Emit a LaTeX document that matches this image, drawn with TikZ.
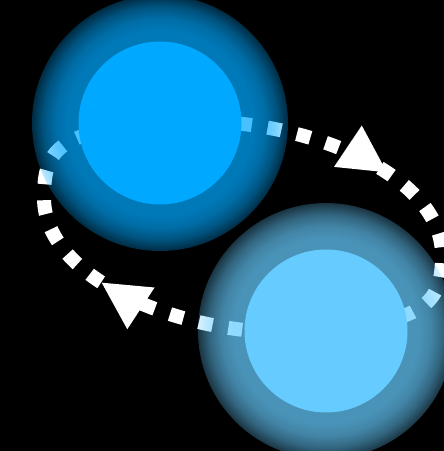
\documentclass[tikz,border=0pt]{standalone}
\usetikzlibrary{arrows.meta,decorations.markings,fadings}
\definecolor{cA}{RGB}{0,168,255}
\definecolor{cB}{RGB}{102,204,255}
\pgfdeclareradialshading{glowmask}{\pgfpointorigin}{color(0bp)=(white!72!black); color(16bp)=(white!72!black); color(18bp)=(white!65!black); color(20bp)=(white!50!black); color(21.5bp)=(white!32!black); color(23bp)=(white!13!black); color(24.2bp)=(white!3!black); color(25bp)=(black); color(50bp)=(black)}
\begin{tikzfadingfrompicture}[name=glowfade]
  \shade[shading=glowmask] (0,0) circle (1cm);
\end{tikzfadingfrompicture}
\pgfdeclarelayer{back}
\pgfdeclarelayer{mid}
\pgfsetlayers{back,mid,main}
\tikzset{
  ball/.style={circle, inner sep=0pt, minimum size=163pt},
  glow/.style={path fading=glowfade, fit fading=true},
  flow/.style={white, line width=14pt, dash pattern=on 14pt off 16pt,
    postaction={decorate, solid},
    decoration={markings, mark=at position #1 with {\arrow{Triangle[length=48pt,width=46pt]}}}},
}
\begin{document}
\begin{tikzpicture}[x=1pt,y=1pt]
\useasboundingbox (0,0) rectangle (444,451);
\node[ball, fill=cA] (A) at (160,328) {};
\node[ball, fill=cB] (B) at (326,120) {};
\coordinate (M1) at (442,196);
\coordinate (M2) at (44,253);
\begin{pgfonlayer}{back}
  \fill[black] (0,0) rectangle (444,451);
  \draw[flow=0.477, dash phase=12pt] (A.center) .. controls (290,341) and (442,281) .. (M1)
       .. controls (442,151) and (430,131) .. (B.center);
  \draw[flow=0.47, dash phase=6pt] (B.center) .. controls (196,107) and (44,168) .. (M2)
       .. controls (44,300) and (56,320) .. (A.center);
\end{pgfonlayer}
\begin{pgfonlayer}{mid}
  \fill[cA, glow] (A.center) circle (128pt);
  \fill[cB, glow] (B.center) circle (128pt);
\end{pgfonlayer}
\end{tikzpicture}
\end{document}
